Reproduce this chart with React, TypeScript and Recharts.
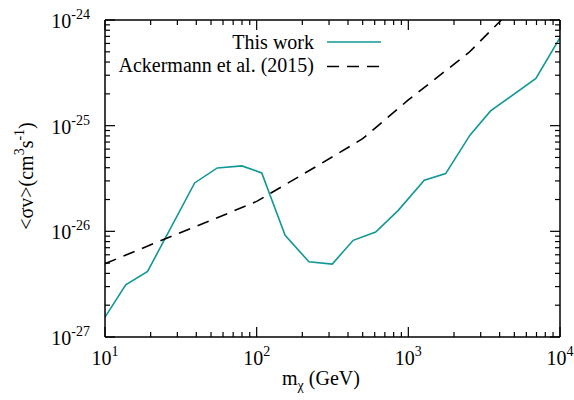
import React from 'react';
import { LineChart, Line, XAxis, YAxis } from 'recharts';

// teal limit curve ("This work")
const WORK_MASS = [10, 13.7, 19.1, 39, 55, 80, 108, 154, 221, 315, 433, 609, 858, 1274, 1762, 2548, 3487, 6937, 10000];
const WORK_SV = [
  1.54e-27, 3.12e-27, 4.18e-27, 2.87e-26, 3.98e-26, 4.16e-26, 3.57e-26, 9.16e-27, 5.16e-27, 4.9e-27,
  8.22e-27, 9.85e-27, 1.58e-26, 3.04e-26, 3.52e-26, 8.13e-26, 1.38e-25, 2.8e-25, 6.79e-25,
];

// dashed reference curve (Ackermann et al. 2015)
const ACK_MASS = [10, 25, 50, 100, 250, 500, 1000, 2500, 5000];
const ACK_SV = [4.94e-27, 8.5e-27, 1.27e-26, 1.92e-26, 4.15e-26, 7.53e-26, 1.75e-25, 4.9e-25, 1.33e-24];

const X_TICKS = [10, 20, 30, 40, 50, 60, 70, 80, 90, 100, 200, 300, 400, 500, 600, 700, 800, 900, 1000, 2000, 3000, 4000, 5000, 6000, 7000, 8000, 9000, 10000];
const Y_TICKS = [
  1e-27, 2e-27, 3e-27, 4e-27, 5e-27, 6e-27, 7e-27, 8e-27, 9e-27,
  1e-26, 2e-26, 3e-26, 4e-26, 5e-26, 6e-26, 7e-26, 8e-26, 9e-26,
  1e-25, 2e-25, 3e-25, 4e-25, 5e-25, 6e-25, 7e-25, 8e-25, 9e-25, 1e-24,
];

const SERIES_NAMES = ['This work', 'Ackermann et al. (2015)'];

const workData = WORK_MASS.map((m, i) => ({ m, sv: WORK_SV[i] }));
const ackData = ACK_MASS.map((m, i) => ({ m, sv: ACK_SV[i] }));

const TEAL = '#119797';
const FONT = 'Liberation Serif';

const W = 574;
const H = 400;
const TOP = 20;
const BOTTOM = 337;
const LEFT = 105;
const RIGHT = 560;

const isMajor = (v: number) => Math.abs(Math.log10(v) - Math.round(Math.log10(v))) < 1e-6;
const exp = (v: number) => Math.round(Math.log10(v));

const BottomTick = (props: any) => {
  const x = props.x;
  const v = props.payload.value;
  const major = isMajor(v);
  return (
    <g>
      <line x1={x} x2={x} y1={BOTTOM} y2={BOTTOM - (major ? 10 : 5)} stroke="#000" strokeWidth={1.2} />
      {major && (
        <text x={x} y={365} textAnchor="middle" fontFamily={FONT} fontSize={20} fill="#000">
          10<tspan fontSize={14} dy={-9}>{exp(v)}</tspan>
        </text>
      )}
    </g>
  );
};

const TopTick = (props: any) => {
  const x = props.x;
  const major = isMajor(props.payload.value);
  return <line x1={x} x2={x} y1={TOP} y2={TOP + (major ? 10 : 5)} stroke="#000" strokeWidth={1.2} />;
};

const LeftTick = (props: any) => {
  const y = props.y;
  const v = props.payload.value;
  const major = isMajor(v);
  return (
    <g>
      <line x1={LEFT} x2={LEFT + (major ? 10 : 5)} y1={y} y2={y} stroke="#000" strokeWidth={1.2} />
      {major && (
        <text x={90} y={y + 8} textAnchor="end" fontFamily={FONT} fontSize={20} fill="#000">
          10<tspan fontSize={14} dy={-9}>{exp(v)}</tspan>
        </text>
      )}
    </g>
  );
};

const RightTick = (props: any) => {
  const y = props.y;
  const major = isMajor(props.payload.value);
  return <line x1={RIGHT} x2={RIGHT - (major ? 10 : 5)} y1={y} y2={y} stroke="#000" strokeWidth={1.2} />;
};

const LegendBox = () => (
  <svg width={280} height={52} style={{ position: 'absolute', left: 110, top: 28 }}>
    <text x={204} y={20.5} textAnchor="end" fontFamily={FONT} fontSize={20} fill="#000">{SERIES_NAMES[0]}</text>
    <line x1={217} x2={271} y1={14} y2={14} stroke={TEAL} strokeWidth={1.6} />
    <text x={204} y={44} textAnchor="end" fontFamily={FONT} fontSize={20} fill="#000">{SERIES_NAMES[1]}</text>
    <line x1={217} x2={271} y1={38.5} y2={38.5} stroke="#000" strokeWidth={1.6} strokeDasharray="12 8" />
  </svg>
);

export default function App() {
  return (
    <div style={{ position: 'absolute', left: 0, top: 0, width: W, height: H, background: '#fff' }}>
      <LineChart width={W} height={H} margin={{ top: 0, right: 0, bottom: 0, left: 0 }}>
        <XAxis
          xAxisId="b"
          dataKey="m"
          type="number"
          scale="log"
          domain={[10, 10000]}
          allowDataOverflow
          ticks={X_TICKS}
          interval={0}
          height={H - BOTTOM}
          axisLine={{ stroke: '#000', strokeWidth: 1.5 }}
          tickLine={false}
          tick={<BottomTick />}
        />
        <XAxis
          xAxisId="t"
          orientation="top"
          dataKey="m"
          type="number"
          scale="log"
          domain={[10, 10000]}
          allowDataOverflow
          ticks={X_TICKS}
          interval={0}
          height={TOP}
          axisLine={{ stroke: '#000', strokeWidth: 1.5 }}
          tickLine={false}
          tick={<TopTick />}
        />
        <YAxis
          yAxisId="l"
          type="number"
          scale="log"
          domain={[1e-27, 1e-24]}
          allowDataOverflow
          ticks={Y_TICKS}
          interval={0}
          width={LEFT}
          axisLine={{ stroke: '#000', strokeWidth: 1.5 }}
          tickLine={false}
          tick={<LeftTick />}
        />
        <YAxis
          yAxisId="r"
          orientation="right"
          type="number"
          scale="log"
          domain={[1e-27, 1e-24]}
          allowDataOverflow
          ticks={Y_TICKS}
          interval={0}
          width={W - RIGHT}
          axisLine={{ stroke: '#000', strokeWidth: 1.5 }}
          tickLine={false}
          tick={<RightTick />}
        />
        <Line
          xAxisId="b"
          yAxisId="l"
          data={workData}
          dataKey="sv"
          name={SERIES_NAMES[0]}
          stroke={TEAL}
          strokeWidth={1.6}
          dot={false}
          isAnimationActive={false}
        />
        <Line
          xAxisId="b"
          yAxisId="l"
          data={ackData}
          dataKey="sv"
          name={SERIES_NAMES[1]}
          stroke="#000"
          strokeWidth={1.6}
          strokeDasharray="12 8"
          dot={false}
          isAnimationActive={false}
        />
      </LineChart>
      <svg width={W} height={H} style={{ position: 'absolute', left: 0, top: 0, pointerEvents: 'none' }}>
        <text
          x={33}
          y={176}
          transform="rotate(-90, 33, 176)"
          textAnchor="middle"
          fontFamily={FONT}
          fontSize={20}
          fill="#000"
        >
          {'<σv>(cm'}
          <tspan fontSize={14} dy={-9}>3</tspan>
          <tspan dy={9}>s</tspan>
          <tspan fontSize={14} dy={-9}>-1</tspan>
          <tspan dy={9}>)</tspan>
        </text>
        <text x={282} y={385} fontFamily={FONT} fontSize={20} fill="#000">
          m<tspan fontSize={14} dy={5}>χ</tspan>
          <tspan dy={-5}> (GeV)</tspan>
        </text>
      </svg>
      <LegendBox />
    </div>
  );
}
